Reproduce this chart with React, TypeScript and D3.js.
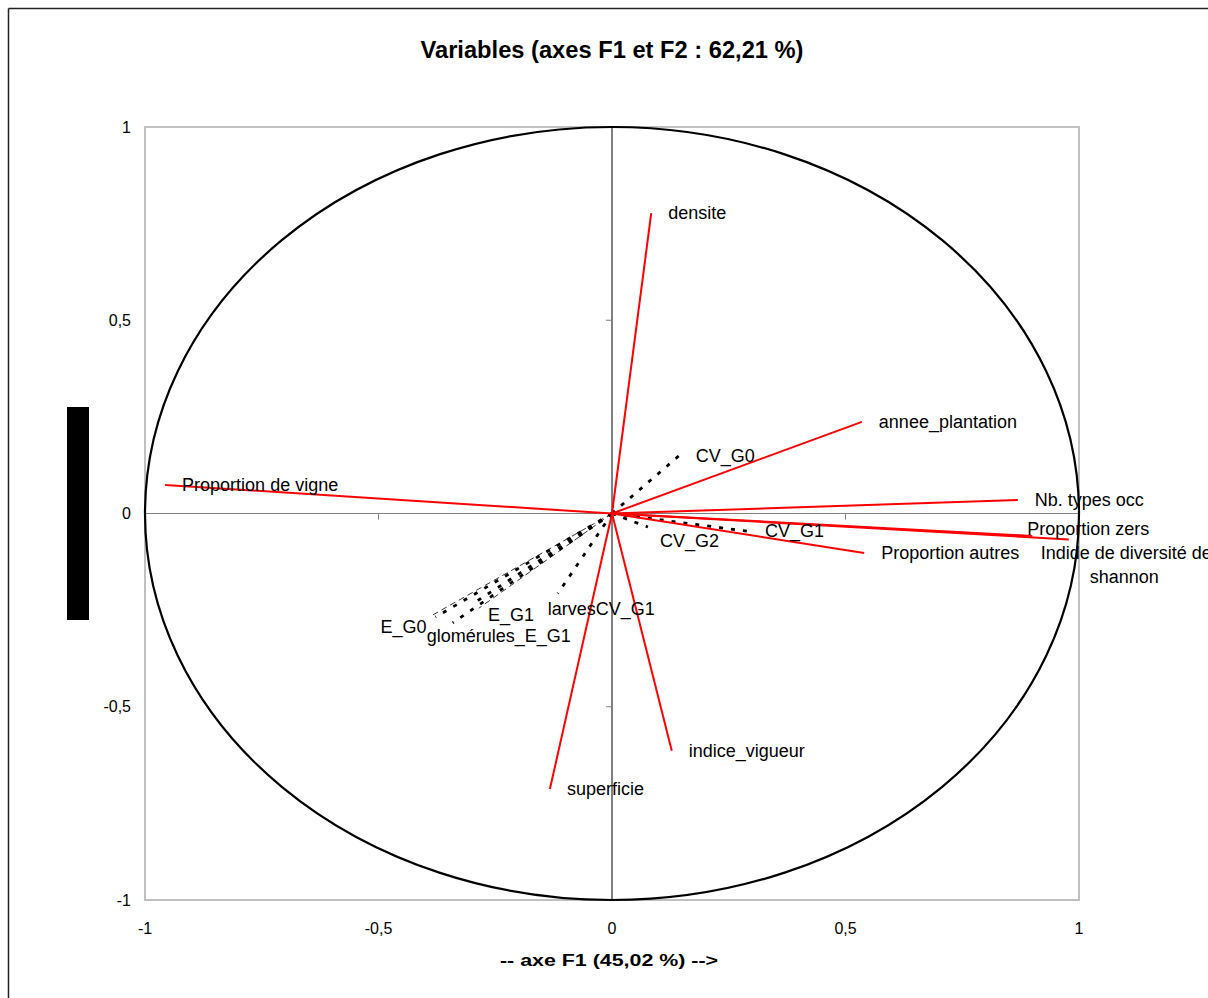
import React from 'react';
import * as d3 from 'd3';

// active variables (red vectors) - coordinates on F1 / F2
const activeNames = [
  'densite',
  'annee_plantation',
  'Proportion de vigne',
  'Nb. types occ',
  'Proportion zers',
  'Indide de diversité de|shannon',
  'Proportion autres',
  'indice_vigueur',
  'superficie',
];
const activeF1 = [0.084, 0.535, -0.957, 0.869, 0.9, 0.978, 0.54, 0.128, -0.133];
const activeF2 = [0.777, 0.237, 0.074, 0.035, -0.058, -0.067, -0.102, -0.614, -0.713];

// supplementary variables (black dotted vectors)
const supNames = ['CV_G0', 'CV_G1', 'CV_G2', 'larvesCV_G1', 'E_G0', 'glomérules_E_G1', 'E_G1'];
const supF1 = [0.143, 0.291, 0.077, -0.116, -0.378, -0.341, -0.3];
const supF2 = [0.149, -0.046, -0.035, -0.207, -0.268, -0.283, -0.235];

// thin dashed companions
const dashNames = ['E_G0', 'E_G1'];
const dashF1 = [-0.383, -0.285];
const dashF2 = [-0.262, -0.245];

const xTicks = [-1, -0.5, 0, 0.5, 1];
const yTicks = [-1, -0.5, 0, 0.5, 1];
const fmt = (v: number) => String(v).replace('.', ',');

// label nudges (px) where excel did not put the label right of the point
const nudge: Record<string, [number, number]> = {
  'Proportion zers': [-5, -7],
  'Indide de diversité de|shannon': [-28, 14],
  CV_G2: [12, 14],
  larvesCV_G1: [-10, 15],
  E_G0: [-55, 10],
  'glomérules_E_G1': [-26, 13],
  E_G1: [16, 11],
};

const font = '"Liberation Sans", Arial, sans-serif';

const App = () => {
  const x = d3.scaleLinear().domain([-1, 1]).range([145, 1079]);
  const y = d3.scaleLinear().domain([-1, 1]).range([900, 127]);
  const cx = x(0);
  const cy = y(0);

  const label = (name: string, vx: number, vy: number, key: string) => {
    const [dx, dy] = nudge[name] || [17, 0];
    const lx = x(vx) + dx;
    const ly = y(vy) + dy;
    const parts = name.split('|');
    if (parts.length > 1) {
      return (
        <text key={key} x={lx} y={ly} fontSize={18} fontFamily={font} dominantBaseline="central">
          <tspan x={lx}>{parts[0]}</tspan>
          <tspan x={lx + 49} dy={24}>{parts[1]}</tspan>
        </text>
      );
    }
    return (
      <text key={key} x={lx} y={ly} fontSize={18} fontFamily={font} dominantBaseline="central">
        {name}
      </text>
    );
  };

  return (
    <svg
      width={1208}
      height={998}
      style={{ position: 'absolute', left: 0, top: 0, display: 'block', background: '#fff' }}
    >
      {/* outer frame */}
      <line x1={8.5} y1={8.5} x2={1208} y2={8.5} stroke="#222" strokeWidth={1.5} />
      <line x1={8.5} y1={8.5} x2={8.5} y2={998} stroke="#222" strokeWidth={1.5} />

      <text x={612} y={58} textAnchor="middle" fontSize={23} fontWeight="bold" fontFamily={font}
        textLength={383} lengthAdjust="spacingAndGlyphs">
        Variables (axes F1 et F2 : 62,21 %)
      </text>

      {/* plot area border */}
      <rect x={x(-1)} y={y(1)} width={x(1) - x(-1)} height={y(-1) - y(1)} fill="none" stroke="#c0c0c0" strokeWidth={2} />

      {/* axes */}
      <line x1={x(-1)} x2={x(1)} y1={cy} y2={cy} stroke="#808080" strokeWidth={1.2} />
      <line x1={cx} x2={cx} y1={y(1)} y2={y(-1)} stroke="#000" strokeWidth={1} />
      {xTicks.filter(t => t !== 0 && Math.abs(t) !== 1).map(t => (
        <line key={'xt' + t} x1={x(t)} x2={x(t)} y1={cy} y2={cy + 6} stroke="#808080" strokeWidth={1} />
      ))}
      {yTicks.filter(t => t !== 0 && Math.abs(t) !== 1).map(t => (
        <line key={'yt' + t} x1={cx - 6} x2={cx} y1={y(t)} y2={y(t)} stroke="#808080" strokeWidth={1} />
      ))}

      {/* correlation circle */}
      <ellipse cx={cx} cy={cy} rx={x(1) - cx} ry={cy - y(1)} fill="none" stroke="#000" strokeWidth={2.2} />

      {/* tick labels */}
      {xTicks.map(t => (
        <text key={'xl' + t} x={x(t)} y={928} textAnchor="middle" dominantBaseline="central" fontSize={16} fontFamily={font}>
          {fmt(t)}
        </text>
      ))}
      {yTicks.map(t => (
        <text key={'yl' + t} x={131} y={y(t)} textAnchor="end" dominantBaseline="central" fontSize={16} fontFamily={font}>
          {fmt(t)}
        </text>
      ))}

      {/* black block where the y title was */}
      <rect x={67} y={407} width={22} height={213} fill="#000" />

      {/* supplementary thin dashed */}
      {dashNames.map((n, i) => (
        <line key={'d' + n} x1={cx} y1={cy} x2={x(dashF1[i])} y2={y(dashF2[i])} stroke="#000" strokeWidth={0.8} strokeDasharray="6,4" />
      ))}
      {/* supplementary dotted */}
      {supNames.map((n, i) => (
        <line key={'s' + n} x1={cx} y1={cy} x2={x(supF1[i])} y2={y(supF2[i])} stroke="#000" strokeWidth={2.8} strokeDasharray="4,8" />
      ))}

      {/* active vectors */}
      {activeNames.map((n, i) => (
        <line key={'a' + n} x1={cx} y1={cy} x2={x(activeF1[i])} y2={y(activeF2[i])} stroke="#ff0000" strokeWidth={2} />
      ))}

      {activeNames.map((n, i) => label(n, activeF1[i], activeF2[i], 'la' + i))}
      {supNames.map((n, i) => label(n, supF1[i], supF2[i], 'ls' + i))}

      <text x={609} y={960} textAnchor="middle" dominantBaseline="central" fontSize={16} fontWeight="bold" fontFamily={font}
        textLength={218} lengthAdjust="spacingAndGlyphs">
        -- axe F1 (45,02 %) --&gt;
      </text>
    </svg>
  );
};

export default App;
